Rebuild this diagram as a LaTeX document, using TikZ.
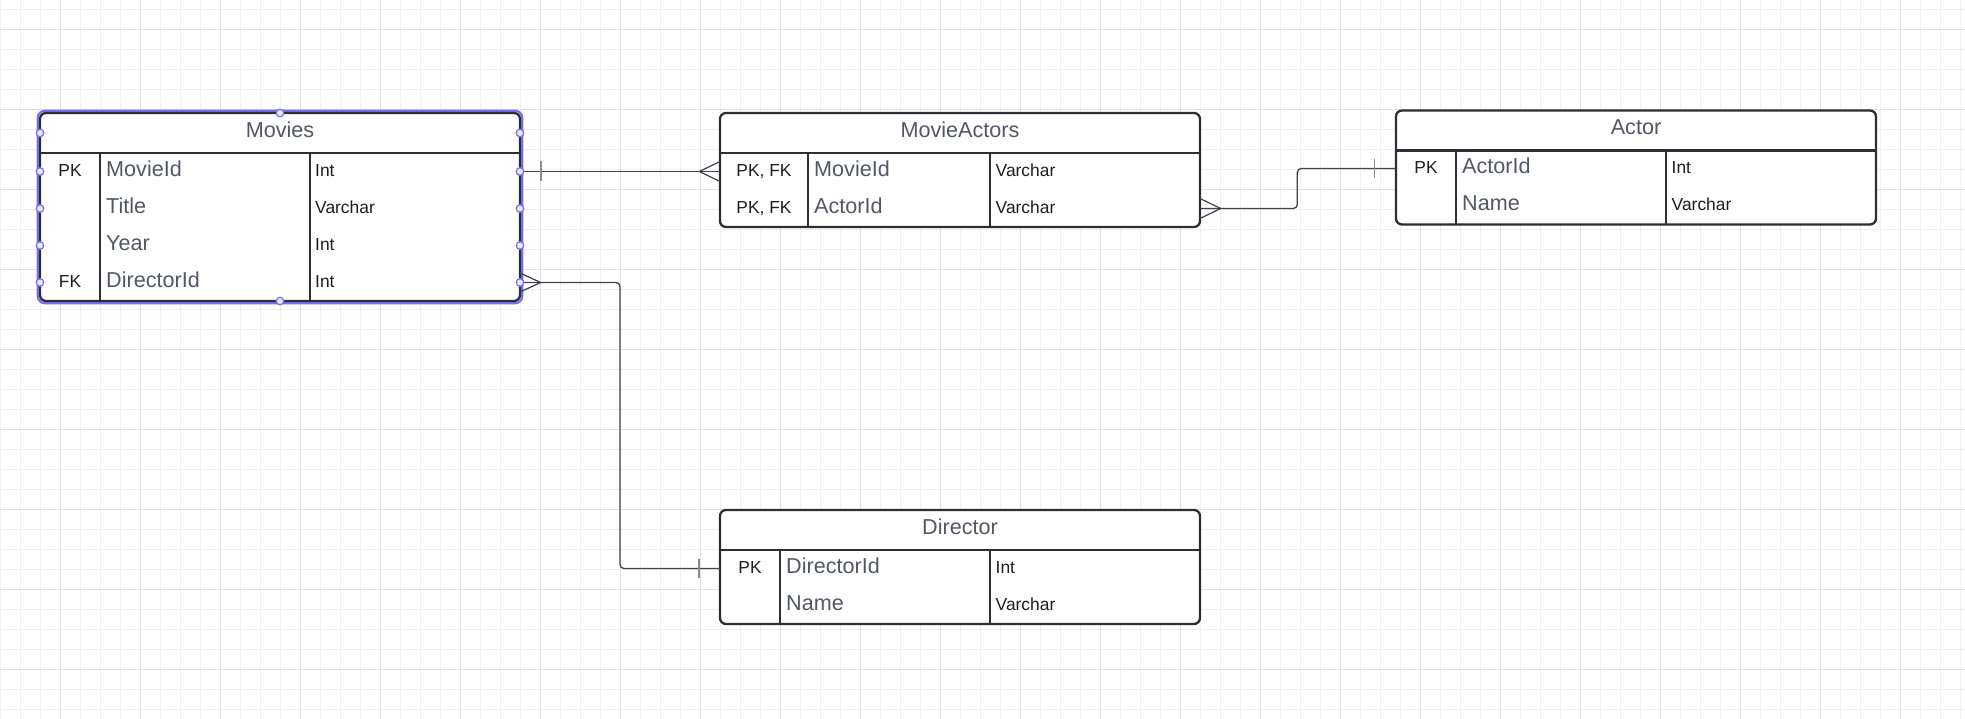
\documentclass[tikz,border=0pt]{standalone}
\usepackage{fontspec}
\setmainfont{Liberation Sans}
\usetikzlibrary{calc}

\definecolor{gridminor}{HTML}{EFEFEF}
\definecolor{gridmajor}{HTML}{E1E1E1}
\definecolor{frame}{HTML}{2B2F36}
\definecolor{label}{HTML}{525863}
\definecolor{ink}{HTML}{1E1E1E}
\definecolor{wire}{HTML}{3E434B}
\definecolor{tickgray}{HTML}{8C8C8C}
\definecolor{select}{HTML}{7470EE}
\definecolor{handle}{HTML}{E9E9F7}

\tikzset{
  tablebox/.style={draw=frame, line width=2.3pt, rounded corners=6pt, inner sep=0pt,
    outer sep=0pt, anchor=north west, fill=white},
  rule/.style={draw=frame, line width=2.3pt},
  title/.style={font=\fontsize{21.6}{24}\selectfont, text=label, anchor=base, inner sep=0pt},
  field/.style={font=\fontsize{21.6}{24}\selectfont, text=label, anchor=base west, inner sep=0pt},
  keytag/.style={font=\fontsize{17.4}{20}\selectfont, text=ink, anchor=base, inner sep=0pt},
  dtype/.style={font=\fontsize{17.4}{20}\selectfont, text=ink, anchor=base west, inner sep=0pt},
  wirepath/.style={draw=wire, line width=1.3pt, rounded corners=4pt},
  onemark/.style={draw=tickgray, line width=1.6pt},
  crow/.style={draw=wire, line width=1.2pt},
  grip/.style={circle, draw=select, fill=handle, line width=1.2pt, minimum size=7.5pt, inner sep=0pt},
}

\begin{document}
\begin{tikzpicture}[x=1pt, y=-1pt]
\useasboundingbox (0,0) rectangle (1965,719);
\fill[white] (0,0) rectangle (1965,719);

% background grid
\foreach \i in {0,...,98} \draw[gridminor, line width=1pt] (\i*20+0.7,0) -- (\i*20+0.7,719);
\foreach \i in {0,...,35} \draw[gridminor, line width=1pt] (0,\i*20+9.3) -- (1965,\i*20+9.3);
\foreach \i in {0,...,24} \draw[gridmajor, line width=1pt] (\i*80+60.7,0) -- (\i*80+60.7,719);
\foreach \i in {0,...,8} \draw[gridmajor, line width=1pt] (0,\i*80+29.3) -- (1965,\i*80+29.3);

% ---------- Movies (selected) ----------
\draw[select, line width=2.2pt, rounded corners=7pt] (37.8,110.8) rectangle (522.2,303.2);
\node[tablebox, minimum width=480pt, minimum height=188pt] (movies) at (40,113) {};
\draw[rule] (40,153) -- (520,153);
\draw[rule] (100,153) -- (100,301);
\draw[rule] (310,153) -- (310,301);
\node[title] (movies-title) at (280,137.5) {Movies};
\coordinate (mv1) at (280,171.5);
\coordinate (mv2) at (280,208.5);
\coordinate (mv3) at (280,245.5);
\coordinate (mv4) at (280,282.5);
\node[keytag] (mv-k1) at (70,176.5) {PK};
\node[field]  (mv-f1) at (106,176.5) {MovieId};
\node[dtype]  (mv-t1) at (315,176.5) {Int};
\node[field]  (mv-f2) at (106,213.5) {Title};
\node[dtype]  (mv-t2) at (315,213.5) {Varchar};
\node[field]  (mv-f3) at (106,250.5) {Year};
\node[dtype]  (mv-t3) at (315,250.5) {Int};
\node[keytag] (mv-k4) at (70,287.5) {FK};
\node[field]  (mv-f4) at (106,287.5) {DirectorId};
\node[dtype]  (mv-t4) at (315,287.5) {Int};

% ---------- MovieActors ----------
\node[tablebox, minimum width=480pt, minimum height=114pt] (movieactors) at (720,113) {};
\draw[rule] (720,153) -- (1200,153);
\draw[rule] (808,153) -- (808,227);
\draw[rule] (990,153) -- (990,227);
\node[title] (ma-title) at (960,137.5) {MovieActors};
\coordinate (ma1) at (960,171.5);
\coordinate (ma2) at (960,208.5);
\node[keytag] (ma-k1) at (764,176.5) {PK, FK};
\node[field]  (ma-f1) at (814,176.5) {MovieId};
\node[dtype]  (ma-t1) at (995.5,176.5) {Varchar};
\node[keytag] (ma-k2) at (764,213.5) {PK, FK};
\node[field]  (ma-f2) at (814,213.5) {ActorId};
\node[dtype]  (ma-t2) at (995.5,213.5) {Varchar};

% ---------- Actor ----------
\node[tablebox, minimum width=480pt, minimum height=114pt] (actor) at (1396,110.5) {};
\draw[rule] (1396,150.5) -- (1876,150.5);
\draw[rule] (1456,150.5) -- (1456,224.5);
\draw[rule] (1666,150.5) -- (1666,224.5);
\node[title] (ac-title) at (1636,135) {Actor};
\coordinate (ac1) at (1636,168.5);
\coordinate (ac2) at (1636,205.5);
\node[keytag] (ac-k1) at (1426,173.5) {PK};
\node[field]  (ac-f1) at (1462,173.5) {ActorId};
\node[dtype]  (ac-t1) at (1671.5,173.5) {Int};
\node[field]  (ac-f2) at (1462,210.5) {Name};
\node[dtype]  (ac-t2) at (1671.5,210.5) {Varchar};

% ---------- Director ----------
\node[tablebox, minimum width=480pt, minimum height=114pt] (director) at (720,510) {};
\draw[rule] (720,550) -- (1200,550);
\draw[rule] (780,550) -- (780,624);
\draw[rule] (990,550) -- (990,624);
\node[title] (dr-title) at (960,534.5) {Director};
\coordinate (dr1) at (960,568.5);
\coordinate (dr2) at (960,605.5);
\node[keytag] (dr-k1) at (750,573.5) {PK};
\node[field]  (dr-f1) at (786,573.5) {DirectorId};
\node[dtype]  (dr-t1) at (995.5,573.5) {Int};
\node[field]  (dr-f2) at (786,610.5) {Name};
\node[dtype]  (dr-t2) at (995.5,610.5) {Varchar};

% ---------- relationships ----------
\coordinate (bendA) at (620,0);
\coordinate (bendB) at (1297.3,0);

% Movies (one) -- MovieActors (many)
\draw[wirepath] (movies.east |- mv1) -- (movieactors.west |- mv1);
\draw[onemark] ($(movies.east |- mv1)+(20.7,-10)$) -- ++(0,20);
\draw[crow] ($(movieactors.west |- mv1)+(0,-10)$) -- ++(-20.7,10) -- ++(20.7,10);

% MovieActors (many) -- Actor (one)
\draw[wirepath] (movieactors.east |- ma2) -- (bendB |- ma2) -- (bendB |- ac1) -- (actor.west |- ac1);
\draw[crow] ($(movieactors.east |- ma2)+(0,-10)$) -- ++(20.7,10) -- ++(-20.7,10);
\draw[onemark] ($(actor.west |- ac1)+(-21.7,-9.5)$) -- ++(0,19);

% Movies (many) -- Director (one)
\draw[wirepath] (movies.east |- mv4) -- (bendA |- mv4) -- (bendA |- dr1) -- (director.west |- dr1);
\draw[crow] ($(movies.east |- mv4)+(0,-9.5)$) -- ++(20.7,9.5) -- ++(-20.7,9.5);
\draw[onemark] ($(director.west |- dr1)+(-21,-9.5)$) -- ++(0,19);

% selection handles on Movies
\foreach \yy in {133,171.5,208.5,245.5,282.5} {
  \node[grip] at (40,\yy) {};
  \node[grip] at (520,\yy) {};
}
\node[grip] (grip-top) at (280,113) {};
\node[grip] (grip-bottom) at (280,301) {};
\end{tikzpicture}
\end{document}
